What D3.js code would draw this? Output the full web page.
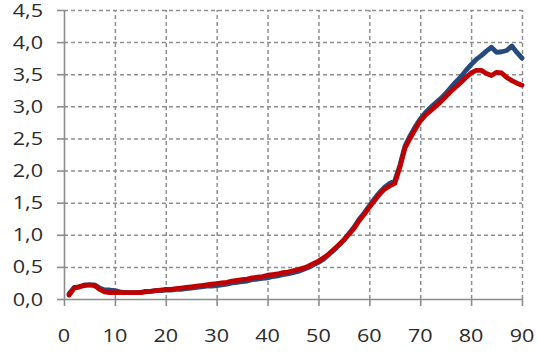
<!DOCTYPE html>
<html>
<head>
<meta charset="utf-8">
<script src="https://cdn.jsdelivr.net/npm/d3@7"></script>
<style>
  body { margin: 0; background: #fff; }
  text { font-family: "Open Sans", sans-serif; fill: #2b2b2b; }
  .grid line { stroke: #8e8e8e; stroke-width: 1.5px; stroke-dasharray: 4 3; }
  .grid path { display: none; }
</style>
</head>
<body>
<div id="chart"></div>
<script>
// values, ages 1..90
var ages = d3.range(1, 91);
var blueVals = [0.08,0.18,0.19,0.22,0.22,0.22,0.17,0.14,0.14,0.13,
                0.11,0.10,0.10,0.10,0.10,0.12,0.12,0.13,0.13,0.14,
                0.14,0.15,0.15,0.16,0.17,0.18,0.19,0.20,0.20,0.21,
                0.22,0.23,0.25,0.26,0.27,0.28,0.30,0.31,0.32,0.33,
                0.35,0.36,0.38,0.39,0.41,0.43,0.46,0.49,0.53,0.57,
                0.62,0.69,0.76,0.84,0.92,1.02,1.12,1.24,1.34,1.45,
                1.56,1.66,1.74,1.80,1.84,2.08,2.38,2.54,2.68,2.80,
                2.90,2.98,3.05,3.12,3.20,3.29,3.38,3.46,3.56,3.65,
                3.73,3.79,3.86,3.92,3.84,3.85,3.87,3.94,3.84,3.75];
var redVals  = [0.06,0.17,0.19,0.21,0.22,0.21,0.15,0.11,0.10,0.10,
                0.10,0.10,0.10,0.10,0.10,0.11,0.12,0.13,0.14,0.15,
                0.15,0.16,0.17,0.18,0.19,0.20,0.21,0.22,0.23,0.24,
                0.25,0.26,0.28,0.29,0.30,0.31,0.33,0.34,0.35,0.37,
                0.38,0.39,0.41,0.42,0.44,0.46,0.48,0.51,0.55,0.59,
                0.64,0.70,0.77,0.84,0.92,1.01,1.10,1.22,1.32,1.43,
                1.53,1.63,1.71,1.76,1.80,2.05,2.35,2.50,2.64,2.77,
                2.86,2.93,3.00,3.07,3.15,3.23,3.30,3.37,3.45,3.52,
                3.56,3.56,3.51,3.48,3.53,3.52,3.45,3.40,3.36,3.33];
var xTicks = [0,10,20,30,40,50,60,70,80,90];
var yTicks = [0,0.5,1,1.5,2,2.5,3,3.5,4,4.5];

var width = 537, height = 356,
    margin = {top: 10, right: 15, bottom: 57, left: 64};

var x = d3.scaleLinear().domain([0, 90]).range([margin.left, width - margin.right]);
var y = d3.scaleLinear().domain([0, 4.5]).range([height - margin.bottom, margin.top]);

var svg = d3.select("#chart").append("svg")
  .attr("width", width).attr("height", height);

var fmt = function(d) { return d3.format(".1f")(d).replace(".", ","); };

// dashed grid, drawn with axes whose ticks span the plot
svg.append("g")
  .attr("class", "grid")
  .attr("transform", "translate(0," + y(0) + ")")
  .call(d3.axisBottom(x).tickValues(xTicks.slice(1)).tickSize(-(y(0) - y(4.5))).tickFormat(""));
svg.append("g")
  .attr("class", "grid")
  .attr("transform", "translate(" + x(0) + ",0)")
  .call(d3.axisLeft(y).tickValues(yTicks.slice(1)).tickSize(-(x(90) - x(0))).tickFormat(""));

// axes
var yAxis = svg.append("g")
  .attr("transform", "translate(" + x(0) + ",0)")
  .call(d3.axisLeft(y).tickValues(yTicks).tickSize(7).tickSizeOuter(0).tickFormat(""));
var xAxis = svg.append("g")
  .attr("transform", "translate(0," + y(0) + ")")
  .call(d3.axisBottom(x).tickValues(xTicks).tickSize(7).tickSizeOuter(0).tickFormat(""));
[yAxis, xAxis].forEach(function(a) {
  a.selectAll("path, line").attr("stroke", "#8c8c8c").attr("stroke-width", 1.6);
});

// tick labels
svg.append("g").selectAll("text")
  .data(yTicks).enter().append("text")
  .attr("transform", function(d) { return "translate(43," + (y(d) + 6.5) + ") scale(1.2,1)"; })
  .attr("text-anchor", "end")
  .style("font-size", "18px")
  .text(fmt);
svg.append("g").selectAll("text")
  .data(xTicks).enter().append("text")
  .attr("transform", function(d) { return "translate(" + x(d) + ",342) scale(1.2,1)"; })
  .attr("text-anchor", "middle")
  .style("font-size", "18px")
  .text(function(d) { return d; });

// lines
var line = d3.line()
  .x(function(d) { return x(d[0]); })
  .y(function(d) { return y(d[1]); });

svg.append("path")
  .datum(d3.zip(ages, blueVals))
  .attr("d", line)
  .attr("fill", "none").attr("stroke", "#264a7e").attr("stroke-width", 4.8)
  .attr("stroke-linejoin", "round").attr("stroke-linecap", "round");
svg.append("path")
  .datum(d3.zip(ages, redVals))
  .attr("d", line)
  .attr("fill", "none").attr("stroke", "#c00000").attr("stroke-width", 4.8)
  .attr("stroke-linejoin", "round").attr("stroke-linecap", "round");
</script>
</body>
</html>
